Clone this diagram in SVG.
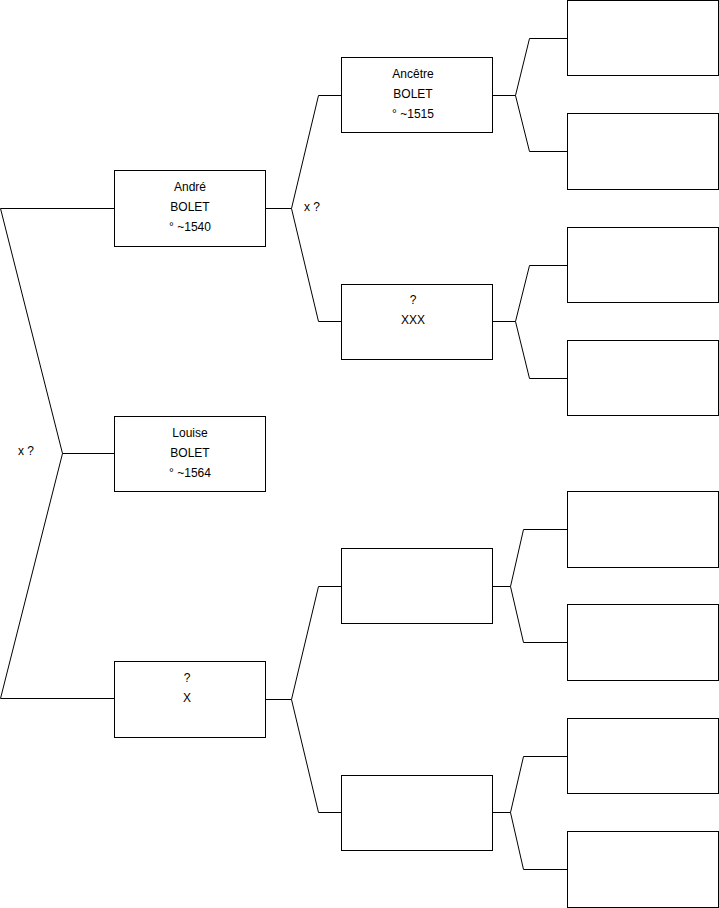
<svg xmlns="http://www.w3.org/2000/svg" width="719" height="908" viewBox="0 0 719 908">
<style>
.box{fill:#fff;stroke:#000;stroke-width:1}
.ln{fill:none;stroke:#000;stroke-width:1}
text{font-family:"Liberation Sans",Arial,sans-serif;font-size:12px;fill:#000}
.c{text-anchor:middle}
</style>
<rect width="719" height="908" fill="#fff"/>
<g id="connectors">
<path class="ln" d="M114.5,208.5 H0.5 L62.5,453.5 L0.5,698.5 H114.5 M62.5,453.5 H114.5"/>
<path class="ln" d="M265.5,208.5 H291.5 M341.5,95.5 H318.5 L291.5,208.5 L318.5,321.5 H341.5"/>
<path class="ln" d="M265.5,699.5 H291.5 M341.5,586.5 H318.5 L291.5,699.5 L318.5,812.5 H341.5"/>
<path class="ln" d="M492.5,95.5 H515.5 M567.5,38.5 H529.5 L515.5,95.5 L529.5,151.5 H567.5"/>
<path class="ln" d="M492.5,321.5 H515.5 M567.5,265.5 H529.5 L515.5,321.5 L529.5,378.5 H567.5"/>
<path class="ln" d="M492.5,586.5 H510.5 M567.5,529.5 H523.5 L510.5,586.5 L523.5,642.5 H567.5"/>
<path class="ln" d="M492.5,812.5 H510.5 M567.5,756.5 H523.5 L510.5,812.5 L523.5,869.5 H567.5"/>
<text x="18" y="455">x ?</text>
<text x="304" y="211">x ?</text>
</g>
<g id="louise"><rect class="box" x="114.5" y="416.5" width="151" height="75"/>
<text class="c" x="190" y="437">Louise</text><text class="c" x="190" y="457">BOLET</text><text class="c" x="190" y="477">° ~1564</text></g>
<g id="andre"><rect class="box" x="114.5" y="170.5" width="151" height="76"/>
<text class="c" x="190" y="191">André</text><text class="c" x="190" y="211">BOLET</text><text class="c" x="190" y="231">° ~1540</text></g>
<g id="mere"><rect class="box" x="114.5" y="661.5" width="151" height="76"/>
<text class="c" x="187" y="682">?</text><text class="c" x="187" y="702">X</text></g>
<g id="ancetre"><rect class="box" x="341.5" y="57.5" width="151" height="75"/>
<text class="c" x="413" y="78">Ancêtre</text><text class="c" x="413" y="98">BOLET</text><text class="c" x="413" y="118">° ~1515</text></g>
<g id="xxx"><rect class="box" x="341.5" y="284.5" width="151" height="75"/>
<text class="c" x="413" y="304">?</text><text class="c" x="413" y="324">XXX</text></g>
<g id="g2c"><rect class="box" x="341.5" y="548.5" width="151" height="75"/></g>
<g id="g2d"><rect class="box" x="341.5" y="775.5" width="151" height="75"/></g>
<g id="g3a"><rect class="box" x="567.5" y="0.5" width="151" height="75"/></g>
<g id="g3b"><rect class="box" x="567.5" y="113.5" width="151" height="76"/></g>
<g id="g3c"><rect class="box" x="567.5" y="227.5" width="151" height="75"/></g>
<g id="g3d"><rect class="box" x="567.5" y="340.5" width="151" height="75"/></g>
<g id="g3e"><rect class="box" x="567.5" y="491.5" width="151" height="76"/></g>
<g id="g3f"><rect class="box" x="567.5" y="604.5" width="151" height="76"/></g>
<g id="g3g"><rect class="box" x="567.5" y="718.5" width="151" height="75"/></g>
<g id="g3h"><rect class="box" x="567.5" y="831.5" width="151" height="76"/></g>
</svg>
